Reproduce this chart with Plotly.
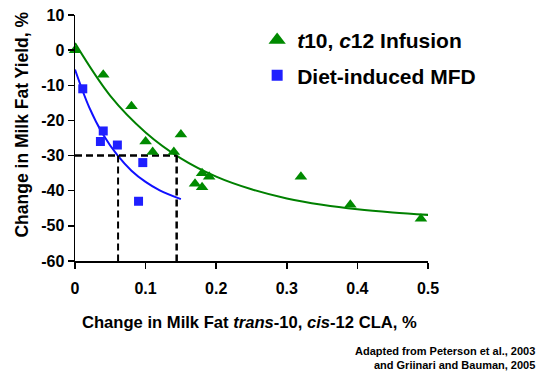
import plotly.graph_objects as go

# Data
infusion_x = [0, 0.04, 0.08, 0.10, 0.11, 0.14, 0.15, 0.17, 0.18, 0.18, 0.19, 0.32, 0.39, 0.49]
infusion_y = [0, -7, -16, -26, -29, -29, -24, -38, -35, -39, -36, -36, -44, -48]

diet_x = [0.011, 0.04, 0.036, 0.06, 0.096, 0.09]
diet_y = [-11, -23, -26, -27, -32, -43]

# Trend lines
infusion_fit_x = [0, 0.05, 0.10, 0.15, 0.20, 0.25, 0.30, 0.35, 0.40, 0.45, 0.51]
infusion_fit_y = [2, -13, -23.4, -30.8, -36, -39.6, -42.2, -44, -45.3, -46.2, -47]

diet_fit_x = [0, 0.02, 0.04, 0.06, 0.08, 0.10, 0.12, 0.15]
diet_fit_y = [-5.5, -16.2, -24.1, -29.9, -34.3, -37.5, -39.9, -42.4]

# Reference (dashed) guide values
guide_y = -30
guide_x_diet = 0.061
guide_x_infusion = 0.144

x_ticks = [0, 0.1, 0.2, 0.3, 0.4, 0.5]
x_tick_labels = ["0", "0.1", "0.2", "0.3", "0.4", "0.5"]
y_ticks = [10, 0, -10, -20, -30, -40, -50, -60]

GREEN = "#008a00"
GREEN_LINE = "#008000"
BLUE = "#1f1fff"
BLUE_LINE = "#1010ff"
FONT = "Liberation Sans, Arial, sans-serif"

fig = go.Figure()

fig.add_trace(go.Scatter(
    x=infusion_fit_x, y=infusion_fit_y, mode="lines", line=dict(color=GREEN_LINE, width=2, shape="spline"),
    showlegend=False, hoverinfo="skip"))
fig.add_trace(go.Scatter(
    x=diet_fit_x, y=diet_fit_y, mode="lines", line=dict(color=BLUE_LINE, width=2, shape="spline"),
    showlegend=False, hoverinfo="skip"))

# dashed guide lines
dash = "7px,4px"
fig.add_trace(go.Scatter(
    x=[0, guide_x_infusion], y=[guide_y, guide_y], mode="lines",
    line=dict(color="black", width=2.5, dash=dash), showlegend=False, hoverinfo="skip"))
fig.add_trace(go.Scatter(
    x=[guide_x_diet, guide_x_diet], y=[guide_y, -60], mode="lines",
    line=dict(color="black", width=2, dash=dash), showlegend=False, hoverinfo="skip"))
fig.add_trace(go.Scatter(
    x=[guide_x_infusion, guide_x_infusion], y=[guide_y, -60], mode="lines",
    line=dict(color="black", width=2.5, dash=dash), showlegend=False, hoverinfo="skip"))

fig.add_trace(go.Scatter(
    x=infusion_x, y=infusion_y, mode="markers", showlegend=False,
    marker=dict(symbol="triangle-up", size=11, color=GREEN), cliponaxis=False))
fig.add_trace(go.Scatter(
    x=diet_x, y=diet_y, mode="markers", showlegend=False,
    marker=dict(symbol="square", size=9, color=BLUE), cliponaxis=False))

# legend-only entries (no marks drawn in the plot)
fig.add_trace(go.Scatter(
    x=[None], y=[None], mode="markers", name="<b><i>t</i>10, <i>c</i>12 Infusion</b>",
    marker=dict(symbol="triangle-up", size=15, color=GREEN), legendgroup="a"))
fig.add_trace(go.Scatter(
    x=[None], y=[None], mode="markers", name="<b>Diet-induced MFD</b>",
    marker=dict(symbol="square", size=11, color=BLUE), legendgroup="b"))

fig.update_layout(
    width=539, height=379,
    margin=dict(l=75, r=111, t=15, b=118, autoexpand=False),
    paper_bgcolor="white", plot_bgcolor="white",
    font=dict(family=FONT, color="black"),
    showlegend=True,
    legend=dict(x=0.516, y=0.98, xanchor="left", yanchor="top", bgcolor="rgba(0,0,0,0)",
                font=dict(size=21, family=FONT), traceorder="grouped", tracegroupgap=5,
                itemsizing="trace"),
    xaxis=dict(range=[0, 0.5], tickvals=x_ticks, ticktext=["<b>%s</b>" % t for t in x_tick_labels],
               showgrid=False, zeroline=False, showline=True, linecolor="black", linewidth=1.5,
               ticks="outside", ticklen=6, tickwidth=1.5, tickcolor="black", automargin=False,
               ticklabelstandoff=6, tickfont=dict(size=16, family=FONT)),
    yaxis=dict(range=[-60, 10], tickvals=y_ticks, ticktext=["<b>%d</b>" % v for v in y_ticks],
               showgrid=False, zeroline=False, showline=True, linecolor="black", linewidth=1.5,
               ticks="outside", ticklen=6, tickwidth=1.5, tickcolor="black", automargin=False,
               ticklabeloverflow="allow", tickfont=dict(size=16, family=FONT)),
    annotations=[
        dict(text="<b>Change in Milk Fat Yield, %</b>", xref="paper", yref="paper",
             x=-0.150, y=0.555, xanchor="center", yanchor="middle", textangle=-90,
             showarrow=False, font=dict(size=17.5, family=FONT)),
        dict(text="<b>Change in Milk Fat <i>trans</i>-10, <i>cis</i>-12 CLA, %</b>",
             xref="paper", yref="paper", x=0.495, y=-0.248, xanchor="center", yanchor="middle",
             showarrow=False, font=dict(size=16.6, family=FONT)),
        dict(text="<b>Adapted from Peterson et al., 2003<br>and Griinari and Bauman, 2005</b>",
             xref="paper", yref="paper", x=1.31, y=-0.335, xanchor="right", yanchor="top",
             align="right", showarrow=False, font=dict(size=11, family=FONT)),
    ],
)

# remove the browser's default 8px body margin so the figure sits at the page origin
fig.write_html("out.html", config={"displayModeBar": False, "staticPlot": True},
               post_script="document.body.style.margin='0';")
